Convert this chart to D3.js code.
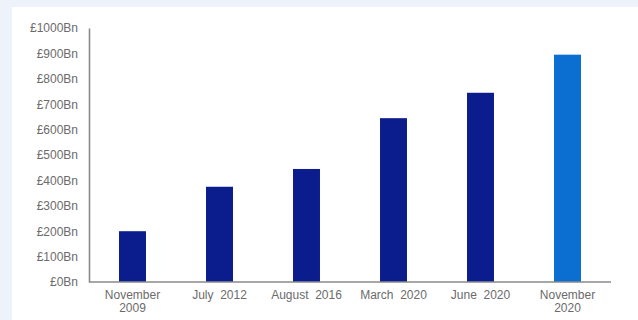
<!DOCTYPE html>
<html>
<head>
<meta charset="utf-8">
<script src="https://cdn.jsdelivr.net/npm/d3@7"></script>
<style>
  html, body { margin: 0; padding: 0; background: #eef3fb; }
  svg { display: block; }
  text { font-family: "Liberation Sans", Arial, sans-serif; fill: #6b6b6b; white-space: pre; }
</style>
</head>
<body>
<svg id="chart" width="638" height="320"></svg>
<script>
// Cumulative asset purchases by announcement date
const categories = [["November", "2009"], ["July  2012"], ["August  2016"], ["March  2020"], ["June  2020"], ["November", "2020"]];
const values = [200, 375, 445, 645, 745, 895];
const barColors = ["#0b1d8c", "#0b1d8c", "#0b1d8c", "#0b1d8c", "#0b1d8c", "#0a6fd1"];
const yTicks = [0, 100, 200, 300, 400, 500, 600, 700, 800, 900, 1000];

const svg = d3.select("#chart");
const W = 638, H = 320;
const margin = { left: 89, right: 27, top: 28, bottom: 38 };

// White panel
svg.append("rect").attr("x", 12).attr("y", 7).attr("width", W - 12).attr("height", H - 7).attr("fill", "#ffffff");

const x = d3.scaleBand()
  .domain(categories.map((d, i) => i))
  .range([margin.left, W - margin.right])
  .paddingInner(0.69)
  .paddingOuter(0.345);

const y = d3.scaleLinear().domain([0, 1000]).range([H - margin.bottom, margin.top]);

// Bars
svg.append("g").selectAll("rect")
  .data(values)
  .join("rect")
  .attr("x", (d, i) => x(i))
  .attr("y", d => y(d))
  .attr("width", x.bandwidth())
  .attr("height", d => y(0) - y(d))
  .attr("fill", (d, i) => barColors[i]);

// Y axis
const yAxis = svg.append("g")
  .attr("transform", `translate(${margin.left},0)`)
  .call(d3.axisLeft(y).tickValues(yTicks).tickSize(0).tickPadding(11).tickFormat(d => `£${d}Bn`));
yAxis.select(".domain").attr("stroke", "#8a8a8a").attr("stroke-width", 1.6);
yAxis.selectAll("text").attr("font-size", 12).style("fill", "#6b6b6b");

// X axis
const xAxis = svg.append("g")
  .attr("transform", `translate(0,${y(0)})`)
  .call(d3.axisBottom(x).tickSize(0).tickFormat(() => ""));
xAxis.select(".domain").attr("stroke", "#8a8a8a").attr("stroke-width", 1.6)
  .attr("d", `M${margin.left},0H${W - margin.right}`);

// Category labels (one or two lines)
const lbl = svg.append("g").selectAll("text")
  .data(categories)
  .join("text")
  .attr("text-anchor", "middle")
  .attr("font-size", 12)
  .attr("x", (d, i) => x(i) + x.bandwidth() / 2)
  .attr("y", y(0) + 17);
lbl.selectAll("tspan")
  .data(d => d)
  .join("tspan")
  .attr("x", function () { return this.parentNode.getAttribute("x"); })
  .attr("dy", (d, j) => j === 0 ? 0 : 12.5)
  .text(d => d);
</script>
</body>
</html>
